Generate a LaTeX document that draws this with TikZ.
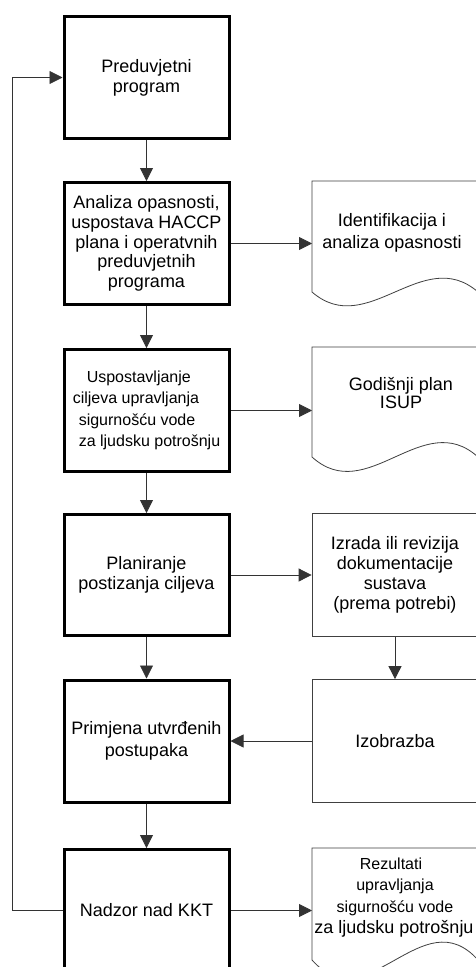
\documentclass[tikz,border=0pt]{standalone}
\usepackage{fontspec}
\setmainfont{Liberation Sans}
\usetikzlibrary{arrows.meta}

% outline of a "document" shape around a text node:
% #1 node, #2 drop of the wave's middle below the node, #3 control height of the wave
\newcommand\docoutline[3]{%
  \draw[docline] (#1.north west) -- (#1.north east)
    -- ([yshift=-#2pt]#1.south east)
    .. controls +(-55.3,-#3) and +(55.3,#3) .. ([yshift=-#2pt]#1.south west)
    -- cycle;}

\begin{document}
\begin{tikzpicture}[x=1pt,y=-1pt,
  stepbox/.style={draw=black, line width=3pt, minimum width=165pt, minimum height=122pt,
    inner sep=2pt, align=center, font=\fontsize{18}{20}\selectfont},
  sidebox/.style={draw=black!75, line width=0.8pt, minimum width=166pt, minimum height=123pt,
    inner sep=2pt, align=center, font=\fontsize{18}{20}\selectfont},
  doctext/.style={inner sep=0pt, outer sep=0pt, minimum width=166pt, align=center,
    font=\fontsize{18}{21.6}\selectfont},
  docline/.style={draw=black!75, line width=0.8pt},
  conn/.style={draw=black!80, line width=0.8pt},
  arr/.style={conn, -{Triangle[length=13pt,width=13pt]}}]

\useasboundingbox (0,0) rectangle (476,967);
\clip (0,0) rectangle (476,967);
\fill[white] (0,0) rectangle (476,967);

% main process column
\node[stepbox] (box1) at (146.5,77.5) {Preduvjetni\\program};
\node[stepbox, font=\fontsize{18}{19.8}\selectfont] (box2) at (146.5,243.5)
  {Analiza opasnosti,\\uspostava HACCP\\plana i operatvnih\\preduvjetnih\\programa};
\node[stepbox, align=left, font=\fontsize{16}{21.5}\selectfont] (box3) at (146.5,410.5)
  {\hspace*{14pt}Uspostavljanje\\ciljeva upravljanja\\\hspace*{6pt}sigurnošću vode\\\hspace*{6pt}za ljudsku potrošnju};
\node[stepbox, minimum height=121pt] (box4) at (146.5,575) {Planiranje\\postizanja ciljeva};
\node[stepbox, font=\fontsize{18}{22}\selectfont] (box5) at (146.5,741) {Primjena utvrđenih\\postupaka};
\node[stepbox] (box6) at (146.5,910.5) {Nadzor nad KKT};

% documents and side activities
\node[doctext, minimum height=104pt] (doc1) at (395,233) {Identifikacija i\hspace*{6pt}\\analiza opasnosti\hspace*{6pt}};
\docoutline{doc1}{7}{48}
\node[doctext, minimum height=92pt, font=\fontsize{18}{15.6}\selectfont] (doc2) at (395,393)
  {\hspace*{12pt}Godišnji plan\\\hspace*{12pt}ISUP};
\docoutline{doc2}{18}{50}
\node[sidebox, font=\fontsize{18}{20}\selectfont] (izrada) at (395,575)
  {Izrada ili revizija\\dokumentacije\\sustava\\(prema potrebi)};
\node[sidebox] (izobrazba) at (395,741) {Izobrazba};
\node[doctext, minimum height=99pt, font=\fontsize{16}{21.3}\selectfont] (doc4) at (395,897.5)
  {Rezultati\hspace*{8pt}\\upravljanja\hspace*{10pt}\\sigurnošću vode\hspace*{50pt}\\{\fontsize{18}{21.3}\selectfont za ljudsku potrošnju}\hspace*{2pt}};
\docoutline{doc4}{13}{62}

% connectors
\coordinate (back) at (12,500);
\draw[arr] (box1.south) -- (box2.north);
\draw[arr] (box2.south) -- (box3.north);
\draw[arr] (box3.south) -- (box4.north);
\draw[arr] (box4.south) -- (box5.north);
\draw[arr] (box5.south) -- (box6.north);
\draw[arr] (box2.east) -- (box2.east -| doc1.west);
\draw[arr] (box3.east) -- (box3.east -| doc2.west);
\draw[arr] (box4.east) -- (izrada.west);
\draw[arr] (izrada.south) -- (izobrazba.north);
\draw[arr] (izobrazba.west) -- (box5.east);
\draw[arr] (box6.east) -- (box6.east -| doc4.west);
\draw[arr] (box6.west) -- (box6.west -| back) |- (box1.west);
\end{tikzpicture}
\end{document}
